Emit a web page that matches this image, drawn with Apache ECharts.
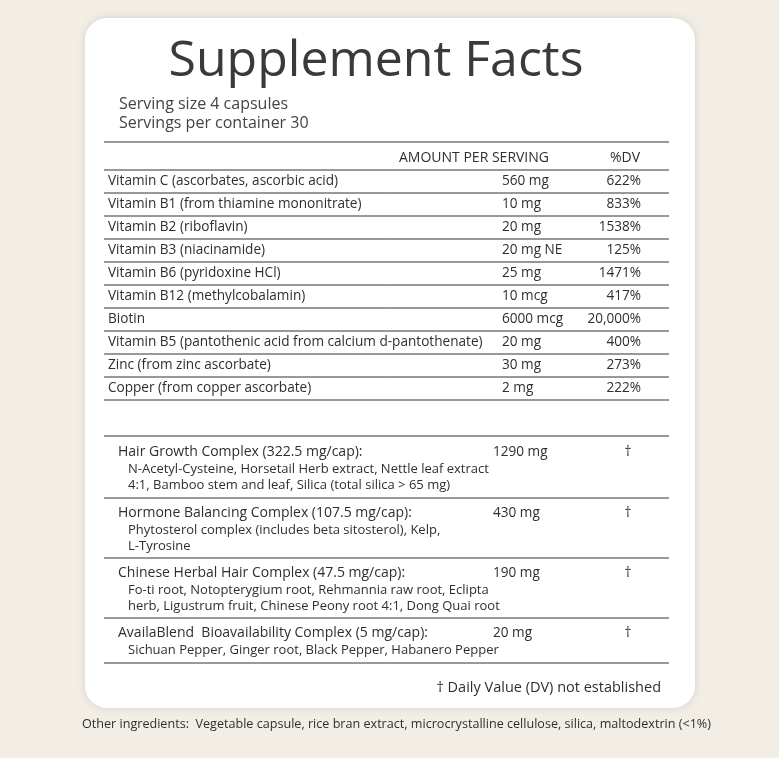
<!DOCTYPE html>
<html>
<head>
<meta charset="utf-8">
<script src="https://cdn.jsdelivr.net/npm/echarts@6/dist/echarts.min.js"></script>
<style>
  html, body { margin: 0; padding: 0; background: #f2eee6; }
  #chart { width: 779px; height: 758px; }
</style>
</head>
<body>
<div id="chart"></div>
<script>
// label data
const nutrients = [
  'Vitamin C (ascorbates, ascorbic acid)',
  'Vitamin B1 (from thiamine mononitrate)',
  'Vitamin B2 (riboflavin)',
  'Vitamin B3 (niacinamide)',
  'Vitamin B6 (pyridoxine HCl)',
  'Vitamin B12 (methylcobalamin)',
  'Biotin',
  'Vitamin B5 (pantothenic acid from calcium d-pantothenate)',
  'Zinc (from zinc ascorbate)',
  'Copper (from copper ascorbate)'
];
const amounts = ['560 mg', '10 mg', '20 mg', '20 mg NE', '25 mg', '10 mcg', '6000 mcg', '20 mg', '30 mg', '2 mg'];
const dailyValues = ['622%', '833%', '1538%', '125%', '1471%', '417%', '20,000%', '400%', '273%', '222%'];

const complexNames = [
  'Hair Growth Complex (322.5 mg/cap):',
  'Hormone Balancing Complex (107.5 mg/cap):',
  'Chinese Herbal Hair Complex (47.5 mg/cap):',
  'AvailaBlend  Bioavailability Complex (5 mg/cap):'
];
const complexDetails = [
  ['N-Acetyl-Cysteine, Horsetail Herb extract, Nettle leaf extract', '4:1, Bamboo stem and leaf, Silica (total silica > 65 mg)'],
  ['Phytosterol complex (includes beta sitosterol), Kelp,', 'L-Tyrosine'],
  ['Fo-ti root, Notopterygium root, Rehmannia raw root, Eclipta', 'herb, Ligustrum fruit, Chinese Peony root 4:1, Dong Quai root'],
  ['Sichuan Pepper, Ginger root, Black Pepper, Habanero Pepper']
];
const complexAmounts = ['1290 mg', '430 mg', '190 mg', '20 mg'];

const font = '"Open Sans", Lato, sans-serif';
const ink = '#2f2f2f';
const elements = [];

function text(x, y, str, size, align, color) {
  elements.push({
    type: 'text', x: x, y: y,
    style: { text: str, font: size + 'px ' + font, fill: color || ink, textAlign: align || 'left', textVerticalAlign: 'middle' }
  });
}
function line(y, w) {
  elements.push({ type: 'line', shape: { x1: 104, y1: y, x2: 669, y2: y }, style: { stroke: '#333', lineWidth: w || 1 } });
}

// card
elements.push({
  type: 'rect', shape: { x: 85, y: 18, width: 610, height: 690, r: 22 },
  style: { fill: '#ffffff', shadowBlur: 8, shadowColor: 'rgba(0,0,0,0.12)' }
});

text(376, 62, 'Supplement Facts', 50, 'center', '#3a3a3a');
text(119, 104, 'Serving size 4 capsules', 16, 'left', '#444');
text(119, 123, 'Servings per container 30', 16, 'left', '#444');
line(142, 1.2);
text(549, 158, 'AMOUNT PER SERVING', 14, 'right');
text(625, 158, '%DV', 14, 'center');

const rowTop = 170, rowH = 23;
line(rowTop);
nutrients.forEach((n, i) => {
  const y = rowTop + rowH * i + rowH / 2;
  text(108, y, n, 13.6);
  text(502, y, amounts[i], 13.6);
  text(641, y, dailyValues[i], 13.6, 'right');
  line(rowTop + rowH * (i + 1));
});

line(436, 1.2);
const blockTops = [437, 498, 558, 618];
const blockBottoms = [498, 558, 618, 663];
complexNames.forEach((c, i) => {
  const y0 = blockTops[i] + 15;
  text(118, y0, c, 14);
  text(493, y0, complexAmounts[i], 13.6);
  text(628, y0, '†', 13.6, 'center');
  complexDetails[i].forEach((d, j) => text(128, y0 + 17 + 16 * j, d, 13));
  line(blockBottoms[i]);
});

text(661, 688, '† Daily Value (DV) not established', 14.5, 'right');
text(82, 724, 'Other ingredients:  Vegetable capsule, rice bran extract, microcrystalline cellulose, silica, maltodextrin (<1%)', 12.6, 'left');

const myChart = echarts.init(document.getElementById('chart'));
myChart.setOption({ backgroundColor: '#f2eee6', graphic: { elements: elements } });
</script>
</body>
</html>
